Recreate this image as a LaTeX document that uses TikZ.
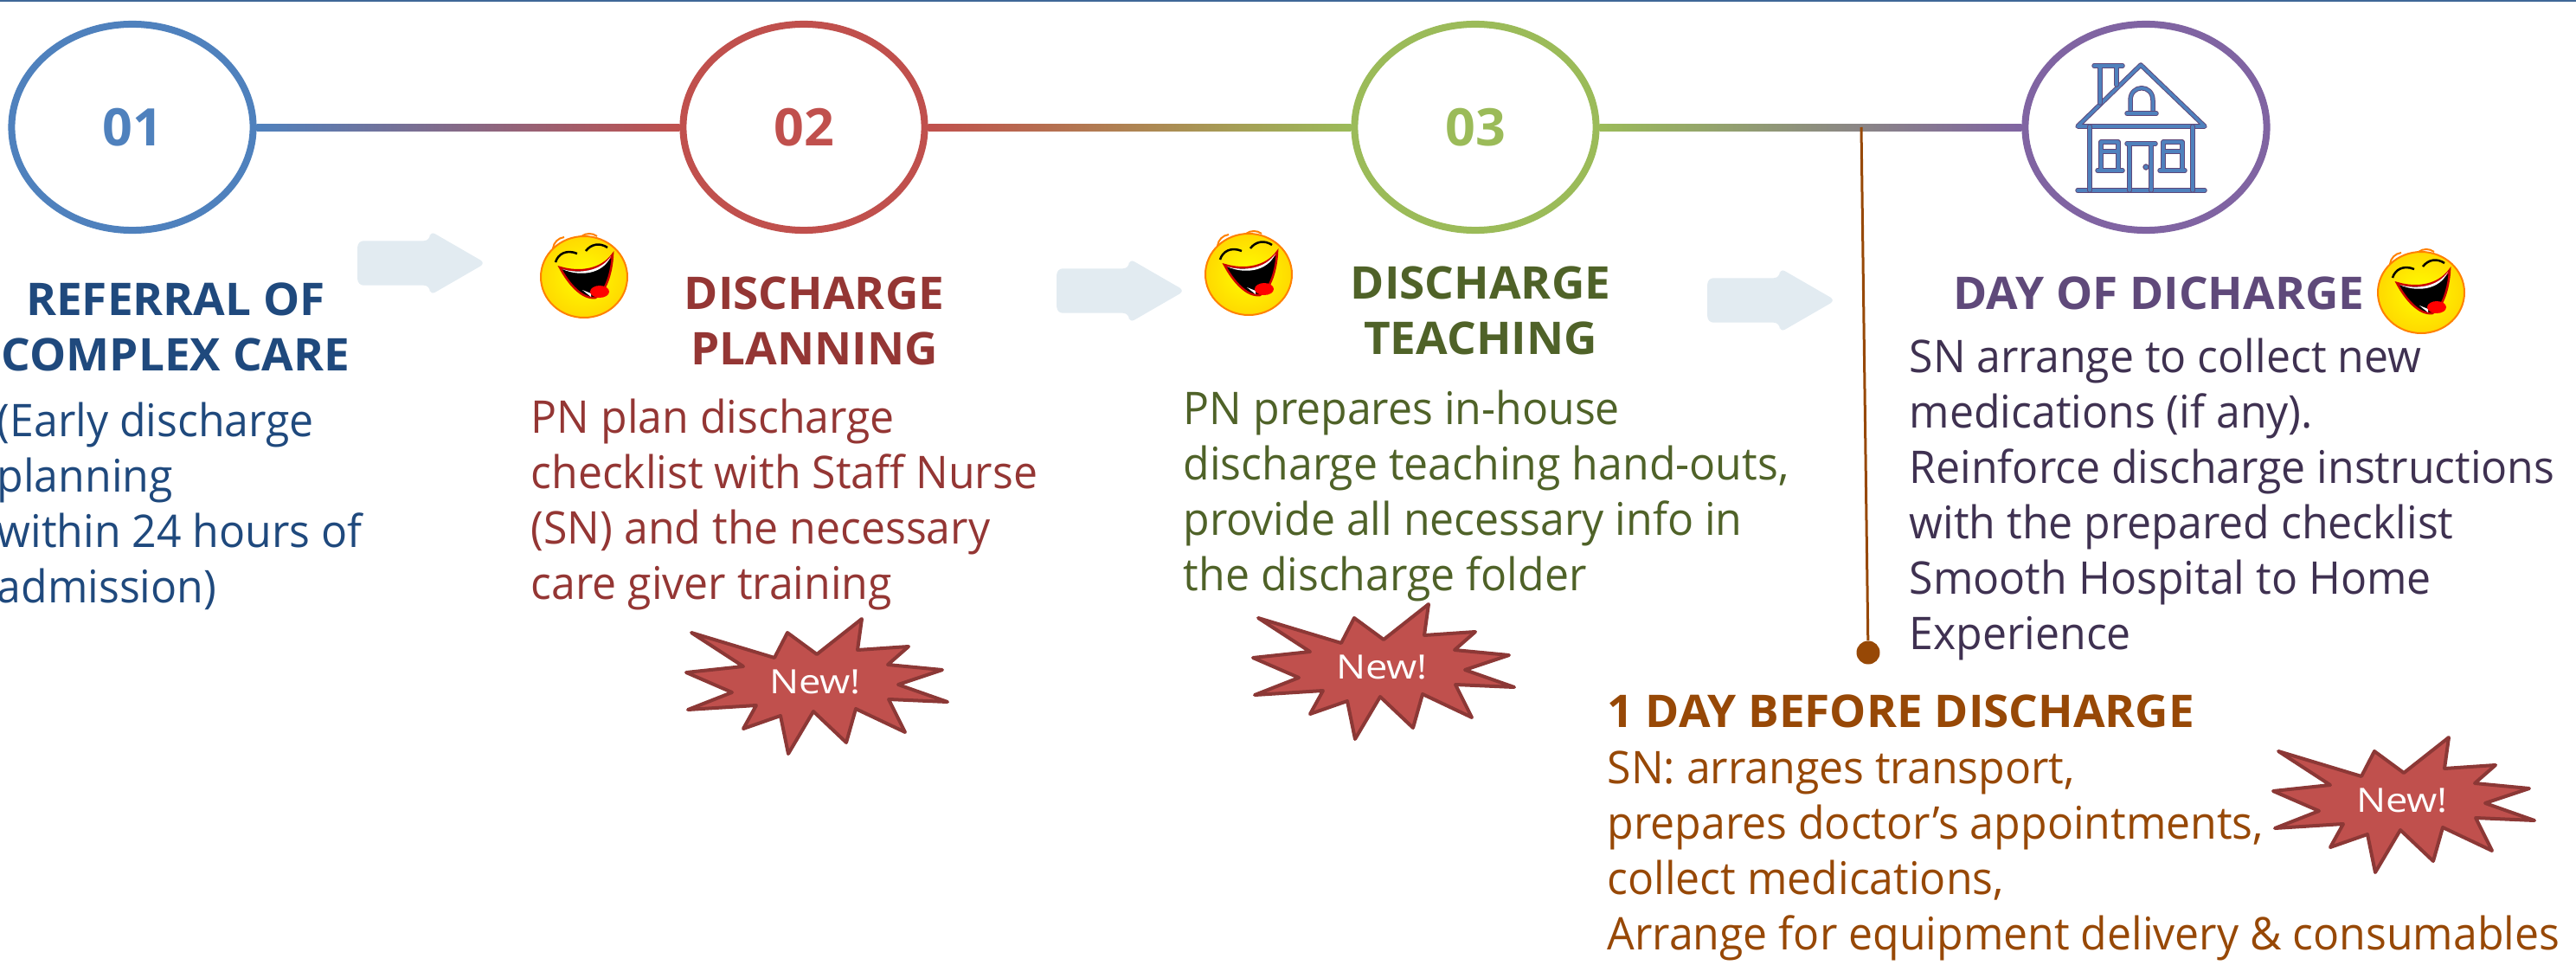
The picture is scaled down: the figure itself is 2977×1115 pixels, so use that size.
\documentclass[tikz,border=0pt]{standalone}
\usepackage{fontspec}
\setmainfont[FakeStretch=0.96,BoldFeatures={FakeStretch=1.02}]{Open Sans}
\usetikzlibrary{calc,shapes.geometric,shapes.arrows}

\definecolor{stageblue}{HTML}{4F81BD}
\definecolor{stagered}{HTML}{C0504D}
\definecolor{stagegreen}{HTML}{9BBB59}
\definecolor{stagepurple}{HTML}{8064A2}
\definecolor{textblue}{HTML}{1F497D}
\definecolor{textred}{HTML}{943634}
\definecolor{textgreen}{HTML}{4F6228}
\definecolor{headpurple}{HTML}{5F497A}
\definecolor{textpurple}{HTML}{3F3151}
\definecolor{textorange}{HTML}{974806}
\definecolor{arrowgrey}{HTML}{E2EBF1}
\definecolor{burstedge}{HTML}{8C3836}
\definecolor{housedark}{HTML}{5F497A}

\tikzset{
    stage/.style={draw=#1,text=#1,shape=ellipse,line width=0.08cm,minimum width=2.79cm,minimum height=2.38cm,inner sep=0pt,font=\fontsize{17}{20}\selectfont\bfseries},
    flowarrow/.style={shape=single arrow,fill=arrowgrey,rounded corners=2pt,minimum height=1.48cm,minimum width=0.73cm,inner sep=0.25cm,single arrow head extend=0.115cm,single arrow tip angle=60},
    heading/.style={text=#1,align=center,anchor=north,inner sep=0pt,font=\fontsize{14.8}{18.2}\selectfont\bfseries},
    bodytext/.style={text=#1,align=left,anchor=north west,inner sep=0pt,font=\fontsize{14.8}{18.2}\selectfont},
    houseline/.style={draw=housedark,double=stageblue,line width=0.01cm,double distance=0.035cm,line cap=round,line join=round},
    newburst/.pic={
        \draw[fill=stagered,draw=burstedge,line width=0.04cm,line join=round]
            (-143,-57) -- (-47,-28) -- (-32,-57) -- (2,-32) -- (54,-73) -- (49,-37) -- (108,-41) -- (84,-20)
            -- (147,-14) -- (96,3) -- (153,23) -- (85,20) -- (104,58) -- (47,31) -- (36,70) -- (-2,34)
            -- (-31,83) -- (-40,39) -- (-83,54) -- (-68,27) -- (-147,32) -- (-96,12) -- (-149,-11) -- (-83,-18) -- cycle;
        \node[text=white,inner sep=0pt,xscale=1.22,font=\fontsize{11}{13}\selectfont] (word) at (0,0) {New!};
    },
    laughface/.pic={
        \draw[orange,line width=0.02cm] (-36,-33) .. controls (-35,-40) and (-30,-45) .. (-23,-46);
        \draw[orange,line width=0.02cm] (-3,-47) .. controls (2,-51) and (10,-51) .. (15,-47);
        \path[draw=orange,line width=0.02cm,inner color=yellow,outer color=yellow!70!orange] (0,0) ellipse [x radius=50,y radius=47];
        \draw[line width=0.025cm] (-33,-17) .. controls (-30,-27) and (-20,-32) .. (-8,-27);
        \draw[line width=0.025cm] (2,-30) .. controls (8,-38) and (18,-40) .. (27,-34);
        \draw[draw=red!80!black,fill=black,line width=0.025cm] (-28,-11) .. controls (-5,-4) and (20,-8) .. (33,-26)
            .. controls (32,-5) and (25,18) .. (13,24) .. controls (-2,26) and (-18,8) .. (-28,-11) -- cycle;
        \fill[white] (-25,-9) .. controls (-5,-3) and (20,-7) .. (31,-24) .. controls (22,-3) and (-5,0) .. (-25,-9) -- cycle;
        \fill[white] (-2,15) -- (8,19) -- (8,23) -- cycle;
        \fill[red] (18,17) ellipse [x radius=11,y radius=7];
    },
}

\begin{document}
\begin{tikzpicture}[x=0.01cm,y=-0.01cm]
        \useasboundingbox (0,0) rectangle (2977,1115);
        \fill[stageblue!80!black] (0,0) rectangle (2977,2.5);

        %%% Stages
        \node[stage=stageblue] (s1) at (153,147) {01};
        \node[stage=stagered] (s2) at (929,147) {02};
        \node[stage=stagegreen] (s3) at (1705,147) {03};
        \node[stage=stagepurple] (s4) at (2480,147) {};

        \draw[line width=0.07cm,stageblue!50!stagered] (s1) -- (s2);
        \draw[line width=0.07cm,stagered!50!stagegreen] (s2) -- (s3);
        \draw[line width=0.07cm,stagegreen!50!stagepurple] (s3) -- (s4);
        \shade[left color=stageblue,right color=stagered] ($(s1.east)+(0,-4)$) rectangle ($(s2.west)+(0,4)$);
        \shade[left color=stagered,right color=stagegreen] ($(s2.east)+(0,-4)$) rectangle ($(s3.west)+(0,4)$);
        \shade[left color=stagegreen,right color=stagepurple] ($(s3.east)+(0,-4)$) rectangle ($(s4.west)+(0,4)$);

        %%% House
        \draw[houseline] (2401,146) -- (2474,75) -- (2548,146) -- cycle;
        \draw[houseline] (2401,220) -- (2548,220);
        \draw[houseline] (2415,146) -- (2415,220);
        \draw[houseline] (2534,146) -- (2534,220);
        \draw[houseline] (2427,119) -- (2427,76) (2446,98) -- (2446,76) (2420,76) -- (2453,76);
        \draw[houseline] (2462,131) -- (2462,116) .. controls (2462,97) and (2488,97) .. (2488,116) -- (2488,131);
        \draw[houseline] (2458,131) -- (2492,131);
        \draw[houseline] (2461,220) -- (2461,166) (2486,166) -- (2486,220) (2458,166) -- (2491,166);
        \draw[houseline] (2480,193) circle (1);
        \draw[houseline] (2428,197) -- (2428,164) -- (2448,164) -- (2448,197) (2428,175) -- (2448,175) (2424,197) -- (2453,197);
        \draw[houseline] (2500,197) -- (2500,164) -- (2522,164) -- (2522,197) (2500,175) -- (2522,175) (2496,197) -- (2525,197);

        %%% Arrows between stages
        \node[flowarrow] (a1) at (465,304) {};
        \node[flowarrow] (a2) at (1273,336) {};
        \node[flowarrow] (a3) at (2025,347) {};

        %%% Texts
        \node[heading=textblue] (t1) at (203,319) {\strut REFERRAL OF\\COMPLEX CARE};
        \node[bodytext=textblue] (b1) at (-4,459) {\strut(Early discharge\\planning\\within 24 hours of\\admission)};
        \node[heading=textred] (t2) at (941,312) {\strut DISCHARGE\\PLANNING};
        \node[bodytext=textred] (b2) at (613,455) {\strut PN plan discharge\\checklist with Staff Nurse\\(SN) and the necessary\\care giver training};
        \node[heading=textgreen] (t3) at (1711,300) {\strut DISCHARGE\\TEACHING};
        \node[bodytext=textgreen] (b3) at (1367,445) {\strut PN prepares in-house\\discharge teaching hand-outs,\\provide all necessary info in\\the discharge folder};
        \node[heading=headpurple] (t4) at (2495,312) {\strut DAY OF DICHARGE};
        \node[bodytext=textpurple] (b4) at (2206,385) {\strut SN arrange to collect new\\medications (if any).\\Reinforce discharge instructions\\with the prepared checklist\\Smooth Hospital to Home\\Experience};

        %%% One day before
        \coordinate (drop) at (2151,147);
        \node[circle,fill=textorange,minimum size=0.27cm,inner sep=0pt] (dot) at (2159,754) {};
        \draw[textorange,line width=0.03cm] (drop) -- (dot);
        \node[heading=textorange,anchor=north west] (t5) at (1857,795) {\strut 1 DAY BEFORE DISCHARGE};
        \node[bodytext=textorange] (b5) at (1857,860) {\strut SN: arranges transport,\\prepares doctor’s appointments,\\collect medications,\\Arrange for equipment delivery \& consumables};

        %%% Bursts and faces
        \pic (n1) at (942,788) {newburst};
        \pic (n2) at (1597,771) {newburst};
        \pic (n3) at (2776,925) {newburst};
        \pic (f1) at (675,320) {laughface};
        \pic (f2) at (1443,317) {laughface};
        \pic (f3) at (2798,338) {laughface};
\end{tikzpicture}
\end{document}
